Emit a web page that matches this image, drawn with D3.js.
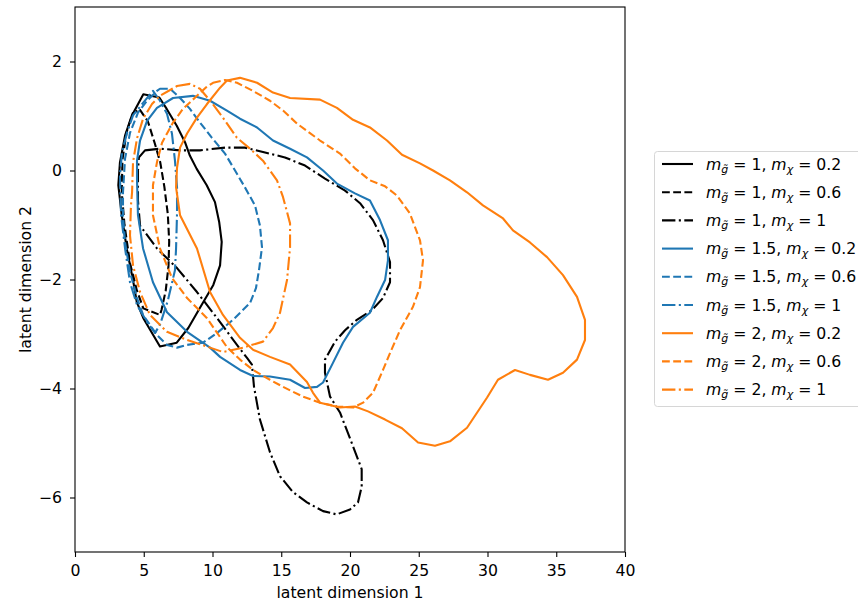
<!DOCTYPE html>
<html>
<head>
<meta charset="utf-8">
<script src="https://cdn.jsdelivr.net/npm/d3@7"></script>
<style>
  body { margin: 0; background: #fff; }
  text { font-family: "DejaVu Sans", sans-serif; }
</style>
</head>
<body>
<script>
  // plot box in pixels
  const margin = { top: 7, right: 233, bottom: 50, left: 75 },
        width = 858 - margin.left - margin.right,
        height = 602 - margin.top - margin.bottom;

  const xTicks = [0, 5, 10, 15, 20, 25, 30, 35, 40];
  const yTicks = [-6, -4, -2, 0, 2];

  // series: gluino mass, neutralino mass
  const gluinoMass = ['1', '1', '1', '1.5', '1.5', '1.5', '2', '2', '2'];
  const chiMass = ['0.2', '0.6', '1', '0.2', '0.6', '1', '0.2', '0.6', '1'];

  // contour outlines, [dim1, dim2]
  const g1_c02 = [[4.97,1.40],[6.13,1.34],[6.67,1.13],[7.40,0.82],[8.0,0.52],[8.36,0.27],[8.85,0.03],[9.58,-0.27],[10.18,-0.58],[10.49,-0.95],[10.67,-1.31],[10.55,-1.74],[10.06,-2.10],[9.09,-2.52],[8.24,-2.89],[7.40,-3.16],[6.18,-3.23],[4.97,-2.71],[4.49,-2.41],[4.24,-2.04],[3.76,-1.43],[3.40,-0.82],[3.15,-0.27],[3.27,0.15],[3.64,0.64],[4.12,1.0]];
  const g1_c06 = [[4.7,1.12],[5.3,0.9],[5.8,0.5],[6.2,0.15],[6.5,-0.3],[6.75,-0.8],[6.85,-1.3],[6.8,-1.75],[6.6,-2.2],[6.3,-2.55],[6.18,-2.65],[4.97,-2.53],[4.5,-2.2],[4.0,-1.7],[3.6,-1.0],[3.4,-0.4],[3.45,0.2],[3.75,0.7],[4.2,1.05]];
  const g1_c1 = [[5.09,0.37],[6.18,0.40],[7.64,0.37],[9.09,0.37],[10.91,0.42],[12.36,0.42],[13.82,0.33],[15.27,0.24],[16.73,0.09],[18.18,-0.15],[19.64,-0.37],[20.73,-0.60],[21.67,-0.91],[22.4,-1.28],[22.91,-1.68],[22.91,-2.05],[22.4,-2.34],[21.6,-2.56],[20.5,-2.74],[19.64,-2.93],[18.91,-3.14],[18.18,-3.47],[18.18,-3.71],[18.55,-4.15],[19.27,-4.44],[20.22,-5.06],[20.85,-5.48],[20.85,-5.80],[20.58,-6.09],[20.0,-6.22],[19.03,-6.31],[18.04,-6.25],[16.87,-6.09],[15.85,-5.90],[14.91,-5.61],[14.18,-5.17],[13.45,-4.57],[13.02,-3.97],[12.87,-3.56],[12.51,-3.44],[11.78,-3.20],[10.55,-2.78],[8.87,-2.23],[7.42,-1.79],[5.96,-1.43],[4.73,-1.01],[4.58,-0.55],[4.58,0.0],[4.65,0.24]];
  const g15_c02 = [[8.58,1.37],[9.82,1.28],[11.05,1.10],[12.0,0.95],[13.24,0.79],[14.4,0.55],[15.64,0.40],[16.87,0.24],[18.04,0.0],[19.05,-0.24],[20.36,-0.42],[21.45,-0.55],[22.18,-0.91],[22.76,-1.28],[22.76,-1.65],[22.55,-2.01],[21.96,-2.32],[21.45,-2.61],[20.22,-2.87],[19.49,-3.16],[18.76,-3.53],[18.04,-3.89],[17.6,-3.97],[16.73,-3.99],[15.64,-3.84],[14.18,-3.78],[12.95,-3.77],[12.0,-3.66],[10.55,-3.42],[9.82,-3.25],[8.15,-2.96],[6.69,-2.60],[5.67,-2.05],[4.95,-1.43],[4.58,-0.82],[4.51,-0.18],[4.51,0.18],[4.73,0.55],[5.24,0.91],[5.96,1.15],[7.13,1.33]];
  const g15_c06 = [[6.18,1.50],[6.91,1.50],[7.64,1.33],[8.36,1.13],[9.09,0.88],[9.96,0.60],[10.91,0.31],[11.64,0.0],[12.36,-0.31],[13.09,-0.64],[13.45,-1.01],[13.6,-1.41],[13.38,-1.83],[13.16,-2.16],[12.73,-2.43],[11.49,-2.74],[10.33,-2.98],[9.31,-3.16],[8.15,-3.2],[7.42,-3.25],[6.69,-3.2],[5.96,-3.02],[4.95,-2.65],[4.51,-2.34],[4.0,-1.86],[3.64,-1.32],[3.49,-0.82],[3.49,-0.40],[3.64,0.22],[4.0,0.69],[4.58,1.06],[5.24,1.28],[5.96,1.46]];
  const g15_c1 = [[5.67,1.46],[6.18,1.28],[6.69,1.04],[7.05,0.68],[7.27,0.18],[7.42,-0.31],[7.42,-0.79],[7.35,-1.43],[7.27,-1.83],[6.76,-2.38],[6.18,-2.83],[5.82,-2.98],[5.24,-2.78],[4.51,-2.47],[4.0,-2.05],[3.64,-1.43],[3.35,-0.82],[3.27,-0.09],[3.42,0.33],[3.78,0.69],[4.22,1.01],[4.95,1.24]];
  const g2_c02 = [[12.0,1.70],[13.24,1.61],[14.4,1.43],[15.64,1.33],[17.82,1.30],[19.05,1.15],[20.22,0.93],[21.45,0.79],[22.69,0.55],[23.78,0.29],[25.09,0.13],[26.04,0.0],[27.27,-0.18],[28.51,-0.40],[29.67,-0.64],[31.13,-0.88],[31.85,-1.10],[33.09,-1.32],[34.33,-1.59],[35.49,-1.92],[36.51,-2.32],[37.09,-2.74],[37.09,-3.11],[36.51,-3.47],[35.49,-3.71],[34.4,-3.84],[33.09,-3.75],[32.0,-3.66],[30.76,-3.84],[29.96,-4.17],[28.51,-4.72],[27.27,-4.97],[26.18,-5.05],[24.95,-4.99],[23.78,-4.73],[22.55,-4.57],[21.31,-4.42],[20.36,-4.33],[19.27,-4.35],[17.82,-4.26],[17.31,-4.08],[16.87,-3.88],[15.64,-3.56],[14.18,-3.42],[12.95,-3.29],[12.0,-3.07],[10.76,-2.65],[9.82,-2.23],[8.87,-1.43],[7.64,-0.82],[7.35,-0.31],[7.42,0.05],[7.64,0.42],[8.15,0.68],[8.87,0.97],[9.6,1.22],[10.55,1.52],[11.05,1.65]];
  const g2_c06 = [[10.04,1.61],[10.91,1.66],[11.78,1.61],[12.95,1.46],[14.18,1.28],[15.13,1.10],[16.15,0.86],[17.82,0.55],[19.27,0.31],[20.36,0.04],[21.45,-0.18],[22.55,-0.29],[23.42,-0.46],[24.36,-0.79],[25.09,-1.28],[25.31,-1.65],[25.09,-2.14],[24.58,-2.50],[23.64,-2.93],[22.91,-3.35],[22.4,-3.66],[21.67,-4.08],[20.95,-4.26],[20.22,-4.35],[19.05,-4.33],[17.82,-4.26],[16.58,-4.15],[15.13,-3.97],[14.18,-3.84],[12.95,-3.66],[12.0,-3.47],[11.05,-3.24],[9.6,-2.71],[8.15,-2.34],[7.05,-1.97],[6.18,-1.43],[5.67,-0.82],[5.67,-0.27],[5.96,0.15],[6.33,0.51],[7.13,0.88],[7.85,1.13],[8.87,1.37],[9.5,1.52]];
  const g2_c1 = [[7.42,1.55],[8.36,1.59],[9.09,1.50],[9.96,1.24],[10.76,0.97],[11.78,0.60],[12.73,0.40],[13.67,0.18],[14.69,-0.18],[15.13,-0.49],[15.64,-0.97],[15.64,-1.41],[15.42,-2.01],[14.91,-2.61],[14.4,-2.89],[13.67,-3.14],[12.22,-3.25],[10.76,-3.33],[9.82,-3.25],[8.15,-3.11],[6.69,-2.96],[5.45,-2.65],[4.73,-2.23],[4.22,-1.74],[4.0,-1.19],[4.07,-0.64],[4.15,-0.40],[4.22,0.15],[4.51,0.59],[4.95,0.95],[5.6,1.22],[6.18,1.37]];

  const contours = [g1_c02, g1_c06, g1_c1, g15_c02, g15_c06, g15_c1, g2_c02, g2_c06, g2_c1];

  const colorOf = { '1': '#000000', '1.5': '#1f77b4', '2': '#ff7f0e' };
  const dashOf = { '0.2': null, '0.6': '7.8,3.4', '1': '13.4,3.4,2.1,3.4' };

  const fs = 15.7;

  const x = d3.scaleLinear().domain([0, 40]).range([0, width]);
  const y = d3.scaleLinear().domain([-7, 3]).range([height, 0]);

  const svg = d3.select('body').append('svg')
      .attr('width', 858)
      .attr('height', 602);

  const g = svg.append('g')
      .attr('transform', `translate(${margin.left},${margin.top})`);

  g.append('defs').append('clipPath').attr('id', 'clip')
    .append('rect').attr('width', width).attr('height', height);

  const line = d3.line()
      .x(d => x(d[0]))
      .y(d => y(d[1]))
      .curve(d3.curveLinearClosed);

  g.append('g').attr('clip-path', 'url(#clip)')
    .selectAll('path')
    .data(contours)
    .join('path')
      .attr('d', line)
      .attr('fill', 'none')
      .attr('stroke', (d, i) => colorOf[gluinoMass[i]])
      .attr('stroke-width', 2.1)
      .attr('stroke-linejoin', 'round')
      .attr('stroke-dasharray', (d, i) => dashOf[chiMass[i]]);

  // axes
  const xAxis = d3.axisBottom(x).tickValues(xTicks).tickSize(5).tickPadding(8);
  const yAxis = d3.axisLeft(y).tickValues(yTicks).tickSize(5).tickPadding(8)
      .tickFormat(d => d < 0 ? '\u2212' + Math.abs(d) : d);

  g.append('g')
      .attr('transform', `translate(0,${height})`)
      .call(xAxis)
      .call(s => s.selectAll('text').style('font-size', fs + 'px').attr('fill', '#000'));
  g.append('g')
      .call(yAxis)
      .call(s => s.selectAll('text').style('font-size', fs + 'px').attr('fill', '#000'));

  g.selectAll('.domain').remove();
  g.selectAll('.tick line').attr('stroke', '#000').attr('stroke-width', 1.1);

  g.append('rect')
      .attr('width', width)
      .attr('height', height)
      .attr('fill', 'none')
      .attr('stroke', '#000')
      .attr('stroke-width', 1.1);

  g.append('text')
      .attr('x', width / 2)
      .attr('y', height + 46)
      .attr('text-anchor', 'middle')
      .style('font-size', fs + 'px')
      .text('latent dimension 1');

  g.append('text')
      .attr('transform', `translate(${-44},${height / 2}) rotate(-90)`)
      .attr('text-anchor', 'middle')
      .style('font-size', fs + 'px')
      .text('latent dimension 2');

  // legend
  const legend = svg.append('g').attr('transform', 'translate(654,151)');
  legend.append('rect')
      .attr('x', 0.5).attr('y', 0.5)
      .attr('width', 215).attr('height', 255)
      .attr('rx', 3)
      .attr('fill', '#fff')
      .attr('stroke', '#d6d6d6')
      .attr('stroke-width', 1);

  const rows = legend.selectAll('g.row')
    .data(gluinoMass.map((m, i) => ({ m: m, c: chiMass[i] })))
    .join('g')
      .attr('class', 'row')
      .attr('transform', (d, i) => `translate(0,${13 + i * 28.2})`);

  rows.append('line')
      .attr('x1', 8).attr('x2', 39)
      .attr('stroke', d => colorOf[d.m])
      .attr('stroke-width', 2.1)
      .attr('stroke-dasharray', d => dashOf[d.c]);

  const label = rows.append('text')
      .attr('x', 52)
      .attr('y', 5.5)
      .style('font-size', fs + 'px');

  label.each(function (d) {
    const t = d3.select(this);
    t.append('tspan').style('font-style', 'italic').text('m');
    t.append('tspan').style('font-style', 'italic').style('font-size', '11px')
      .attr('dy', 3).text('g\u0303');
    t.append('tspan').attr('dy', -3).text(' = ' + d.m + ', ');
    t.append('tspan').style('font-style', 'italic').text('m');
    t.append('tspan').style('font-style', 'italic').style('font-size', '11px')
      .attr('dy', 3).text('\u03c7');
    t.append('tspan').attr('dy', -3).text(' = ' + d.c);
  });
</script>
</body>
</html>
